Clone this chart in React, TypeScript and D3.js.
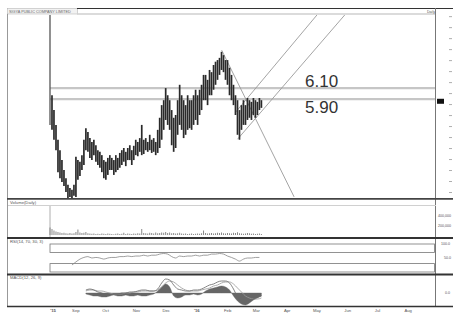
import React from "react";
import * as d3 from "d3";

const startDate = new Date(2015, 7, 9);
const endDate = new Date(2016, 8, 1);
const barSpacingDays = 2.01;

const barHighs = [
  7.45, 5.97, 5.7, 5.43, 5.16, 4.97, 4.79, 4.61, 4.46, 4.34, 4.28, 4.25, 4.34, 4.85, 4.79, 4.76, 4.88, 5.16, 5.37, 5.3,
  5.19, 5.12, 5.16, 5.06, 4.97, 4.94, 4.88, 4.79, 4.76, 4.83, 4.88, 4.83, 4.79, 4.88, 4.83, 4.92, 4.97, 5.01, 4.94, 5.01,
  5.06, 4.97, 5.05, 5.16, 5.12, 5.19, 5.43, 5.16, 5.19, 5.12, 5.25, 5.16, 5.19, 5.12, 5.34, 5.56, 5.79, 5.88, 6.1, 5.97,
  5.88, 5.7, 5.56, 5.61, 5.88, 6.16, 5.97, 5.88, 5.79, 5.97, 5.88, 5.88, 5.97, 6.07, 5.97, 6.07, 6.16, 6.34, 6.34, 6.25,
  6.43, 6.39, 6.52, 6.58, 6.61, 6.65, 6.76, 6.7, 6.61, 6.61, 6.47, 6.34, 6.16, 5.97, 5.88, 5.7, 5.79, 5.88, 5.79, 5.92,
  5.88, 5.85, 5.92, 5.88, 5.85, 5.92, 5.88,
];
const barLows = [
  5.43, 5.34, 5.16, 4.97, 4.57, 4.46, 4.39, 4.32, 4.21, 4.1, 4.12, 4.1, 4.14, 4.12, 4.43, 4.5, 4.61, 4.7, 4.97, 4.94,
  4.83, 4.79, 4.88, 4.76, 4.7, 4.65, 4.57, 4.46, 4.43, 4.52, 4.61, 4.61, 4.52, 4.57, 4.61, 4.65, 4.7, 4.76, 4.68, 4.79,
  4.79, 4.7, 4.79, 4.88, 4.86, 4.94, 4.88, 4.9, 4.97, 4.94, 4.97, 4.92, 4.94, 4.88, 4.92, 5.01, 5.16, 5.34, 5.52, 5.43,
  5.34, 5.06, 4.94, 5.01, 5.25, 5.43, 5.34, 5.19, 5.25, 5.34, 5.37, 5.34, 5.43, 5.52, 5.43, 5.61, 5.7, 5.88, 5.88, 5.79,
  5.97, 5.97, 6.07, 6.16, 6.25, 6.34, 6.43, 6.39, 6.25, 6.16, 5.97, 5.88, 5.79, 5.61, 5.25, 5.16, 5.34, 5.43, 5.43, 5.52,
  5.56, 5.52, 5.61, 5.56, 5.61, 5.7, 5.74,
];
const barVolumesK = [
  150, 120, 90, 70, 60, 50, 40, 45, 35, 30, 40, 30, 35, 60, 110, 50, 40, 45, 60, 35,
  30, 25, 30, 20, 25, 20, 30, 25, 20, 30, 25, 20, 15, 25, 30, 20, 25, 45, 20, 30,
  25, 20, 30, 25, 35, 30, 120, 40, 35, 30, 45, 40, 30, 50, 35, 40, 50, 45, 60, 40,
  50, 35, 40, 30, 35, 45, 30, 25, 30, 20, 25, 30, 20, 25, 30, 25, 35, 90, 40, 30,
  35, 40, 30, 35, 45, 40, 50, 35, 30, 40, 35, 30, 45, 40, 55, 35, 30, 25, 30, 40,
  35, 25, 30, 20, 25, 30, 20,
];

const rsiFirstBar = 11;
const rsiBarStep = 2;
const rsiValues = [
  25, 36, 46, 52, 55, 50, 52, 50, 46, 50, 52, 52, 55, 55, 57, 55, 57, 57, 60, 57,
  60, 60, 64, 66, 64, 55, 50, 57, 55, 57, 57, 60, 57, 60, 60, 64, 64, 66, 64, 57,
  52, 46, 39, 46, 50, 50, 52, 52,
];

const macdFirstBar = 18;
const macdBarStep = 2;
const macdValues = [
  0.03, 0.04, 0.03, 0.01, 0.0, -0.02, -0.02, -0.01, -0.01, 0.0, 0.0, 0.01, 0.01, 0.02, 0.03, 0.03, 0.02, 0.02, 0.04, 0.1,
  0.14, 0.13, 0.08, 0.04, 0.03, 0.02, 0.02, 0.03, 0.03, 0.04, 0.06, 0.08, 0.09, 0.11, 0.12, 0.12, 0.1, 0.04, -0.04, -0.08,
  -0.09, -0.08, -0.06, -0.04, -0.03,
];
const signalValues = [
  0.02, 0.03, 0.03, 0.02, 0.02, 0.01, 0.0, -0.01, -0.01, -0.01, 0.0, 0.0, 0.01, 0.01, 0.02, 0.02, 0.02, 0.02, 0.03, 0.06,
  0.1, 0.12, 0.11, 0.08, 0.05, 0.03, 0.02, 0.02, 0.02, 0.03, 0.04, 0.05, 0.07, 0.08, 0.1, 0.11, 0.11, 0.09, 0.05, 0.01,
  -0.03, -0.05, -0.06, -0.06, -0.05,
];
const histValues = [
  -0.01, -0.02, -0.03, -0.03, -0.04, -0.04, -0.03, -0.02, -0.03, -0.03, -0.02, -0.03, -0.03, -0.02, -0.03, -0.03, -0.02, -0.01, 0.02, 0.06,
  0.09, 0.06, -0.03, -0.05, -0.04, -0.02, -0.02, -0.01, -0.02, -0.01, 0.02, 0.04, 0.05, 0.06, 0.07, 0.06, 0.03, -0.03, -0.08, -0.11,
  -0.12, -0.1, -0.07, -0.05, -0.03,
];

const levelPrices = [6.1, 5.9];
const levelLabels = ["6.10", "5.90"];
const lastPrice = 5.86;

// trend lines: [dayOffset0, price0, dayOffset1, price1]
const trendLines = [
  [173, 6.79, 246, 4.12],
  [187, 5.66, 269, 7.43],
  [189, 5.17, 297, 7.43],
];

const monthTickDates = [
  [2015, 7, 9], [2015, 8, 1], [2015, 9, 1], [2015, 10, 1], [2015, 11, 1], [2016, 0, 1], [2016, 1, 1],
  [2016, 2, 1], [2016, 3, 1], [2016, 4, 1], [2016, 5, 1], [2016, 6, 1], [2016, 7, 1],
];
const monthTickLabels = ["'15", "Sep", "Oct", "Nov", "Dec", "'16", "Feb", "Mar", "Apr", "May", "Jun", "Jul", "Aug"];

const volumeTickValues = [400, 200];
const volumeTickLabels = ["400,000", "200,000"];
const rsiTickValues = [100, 50];
const rsiTickLabels = ["100.0", "50.0"];

const W = 453;
const H = 315;
const FONT = "'Liberation Sans', Arial, sans-serif";

export default function App() {
  const x = d3.scaleTime().domain([startDate, endDate]).range([50, 436]);
  const barDate = (i: number) => d3.timeHour.offset(startDate, Math.round(i * barSpacingDays * 24));
  const dayDate = (d: number) => d3.timeHour.offset(startDate, Math.round(d * 24));
  const yMain = d3.scaleLinear().domain([4.1, 7.43]).range([198, 15]);
  const yVol = d3.scaleLinear().domain([0, 400]).range([235, 215]);
  const yRsi = d3.scaleLinear().domain([0, 100]).range([272, 244]);
  const yMacd = d3.scaleLinear().domain([-0.13, 0.17]).range([306, 276]);

  const rsiPts = rsiValues.map((v, k) => [x(barDate(rsiFirstBar + k * rsiBarStep)), yRsi(v)] as [number, number]);
  const macdX = (k: number) => x(barDate(macdFirstBar + k * macdBarStep));
  const lineGen = d3.line<[number, number]>().curve(d3.curveMonotoneX);
  const macdPath = lineGen(macdValues.map((v, k) => [macdX(k), yMacd(v)]));
  const signalPath = lineGen(signalValues.map((v, k) => [macdX(k), yMacd(v)]));
  const histArea = d3
    .area<number>()
    .x((_, k) => macdX(k))
    .y0(yMacd(0))
    .y1((v) => yMacd(v))
    .curve(d3.curveMonotoneX)(histValues);

  const priceTicks = yMain.ticks(15);
  const tiny = { fontFamily: FONT, fontSize: 4.2, fill: "#555" } as const;

  return (
    <svg width={W} height={H} style={{ position: "absolute", left: 0, top: 0, background: "#fff" }}>
      <defs>
        <clipPath id="mainClip">
          <rect x={8} y={15} width={427} height={183} />
        </clipPath>
      </defs>
      <rect x={0} y={0} width={W} height={H} fill="#fff" />

      {/* title bar */}
      <rect x={7.5} y={8.5} width={70} height={5.5} fill="#f2f2f2" stroke="#aaa" strokeWidth={0.5} />
      <text x={9} y={12.8} style={{ ...tiny, fontSize: 3.8, fill: "#666" }}>SIGYA PUBLIC COMPANY LIMITED</text>
      <line x1={77} x2={W} y1={8.5} y2={8.5} stroke="#333" strokeWidth={1.2} />
      <line x1={77} x2={436} y1={14} y2={14} stroke="#cfcfcf" strokeWidth={1.5} />
      <text x={427} y={12.8} style={{ ...tiny, fontSize: 3.6 }}>Daily</text>

      {/* frame */}
      <line x1={7.5} x2={7.5} y1={14} y2={307} stroke="#999" strokeWidth={1} />
      <line x1={435.5} x2={435.5} y1={8} y2={307} stroke="#777" strokeWidth={1} />

      {/* main panel */}
      {levelPrices.map((p, i) => (
        <line key={"lv" + i} x1={50} x2={435} y1={yMain(p)} y2={yMain(p)} stroke="#c6c6c6" strokeWidth={2.2} />
      ))}
      <g clipPath="url(#mainClip)">
        {trendLines.map((t, i) => (
          <line
            key={"tl" + i}
            x1={x(dayDate(t[0]))}
            y1={yMain(t[1])}
            x2={x(dayDate(t[2]))}
            y2={yMain(t[3])}
            stroke="#9a9a9a"
            strokeWidth={0.9}
          />
        ))}
        {barHighs.map((h, i) => (
          <line
            key={"b" + i}
            x1={x(barDate(i))}
            x2={x(barDate(i))}
            y1={yMain(h)}
            y2={yMain(barLows[i])}
            stroke={i === 0 ? "#555" : "#2a2a2a"}
            strokeWidth={i === 0 ? 1.3 : 1.7}
          />
        ))}
      </g>
      {levelLabels.map((l, i) => (
        <text
          key={"ll" + i}
          x={305}
          y={yMain(levelPrices[i]) + (i === 0 ? -1 : 14)}
          style={{ fontFamily: FONT, fontSize: 17, fill: "#333" }}
        >
          {l}
        </text>
      ))}
      {priceTicks.map((t, i) => (
        <line key={"pt" + i} x1={449} x2={452} y1={yMain(t)} y2={yMain(t)} stroke="#999" strokeWidth={0.8} />
      ))}
      <rect x={437} y={yMain(lastPrice) - 2.5} width={7} height={5} fill="#111" />
      <line x1={7} x2={W} y1={198.8} y2={198.8} stroke="#444" strokeWidth={1.8} />

      {/* volume panel */}
      <text x={10} y={204} style={tiny}>Volume(Daily)</text>
      <line x1={8} x2={436} y1={205.5} y2={205.5} stroke="#d0d0d0" strokeWidth={1} />
      <line x1={50} x2={50} y1={206} y2={237} stroke="#999" strokeWidth={0.8} />
      {barVolumesK.map((v, i) => (
        <line
          key={"v" + i}
          x1={x(barDate(i))}
          x2={x(barDate(i))}
          y1={yVol(0)}
          y2={yVol(v)}
          stroke="#888"
          strokeWidth={1}
        />
      ))}
      {volumeTickValues.map((v, i) => (
        <text key={"vt" + i} x={438} y={yVol(v) + 1.5} style={{ ...tiny, fontSize: 3.6 }}>
          {volumeTickLabels[i]}
        </text>
      ))}
      <line x1={7} x2={W} y1={238} y2={238} stroke="#333" strokeWidth={1.8} />

      {/* RSI panel */}
      <text x={10} y={242.5} style={tiny}>RSI(14, 70, 30, 3)</text>
      <rect x={50} y={yRsi(100)} width={384.5} height={yRsi(70) - yRsi(100)} fill="none" stroke="#777" strokeWidth={0.8} />
      <rect x={50} y={yRsi(30)} width={384.5} height={yRsi(0) - yRsi(30)} fill="none" stroke="#777" strokeWidth={0.8} />
      <path d={lineGen(rsiPts) || ""} fill="none" stroke="#888" strokeWidth={0.8} />
      {rsiTickValues.map((v, i) => (
        <text key={"rt" + i} x={i === 0 ? 441 : 444} y={yRsi(v) + 1.2} style={{ ...tiny, fontSize: 3.6 }}>
          {rsiTickLabels[i]}
        </text>
      ))}
      <line x1={7} x2={W} y1={274.5} y2={274.5} stroke="#333" strokeWidth={1.8} />

      {/* MACD panel */}
      <text x={10} y={279} style={tiny}>MACD(12, 26, 9)</text>
      <path d={histArea || ""} fill="#666" stroke="#666" strokeWidth={0.4} />
      <path d={signalPath || ""} fill="none" stroke="#999" strokeWidth={0.8} />
      <path d={macdPath || ""} fill="none" stroke="#666" strokeWidth={0.8} />
      <text x={445} y={yMacd(0) + 1.2} style={{ ...tiny, fontSize: 3.6 }}>0.0</text>

      {/* bottom axis */}
      <line x1={7} x2={W} y1={306.5} y2={306.5} stroke="#333" strokeWidth={1.6} />
      {monthTickDates.map((d, i) => (
        <text
          key={"m" + i}
          x={x(new Date(d[0], d[1], d[2])) + 3}
          y={312}
          textAnchor="middle"
          style={{ ...tiny, fontWeight: i === 0 || i === 5 ? "bold" : "normal" }}
        >
          {monthTickLabels[i]}
        </text>
      ))}
    </svg>
  );
}
